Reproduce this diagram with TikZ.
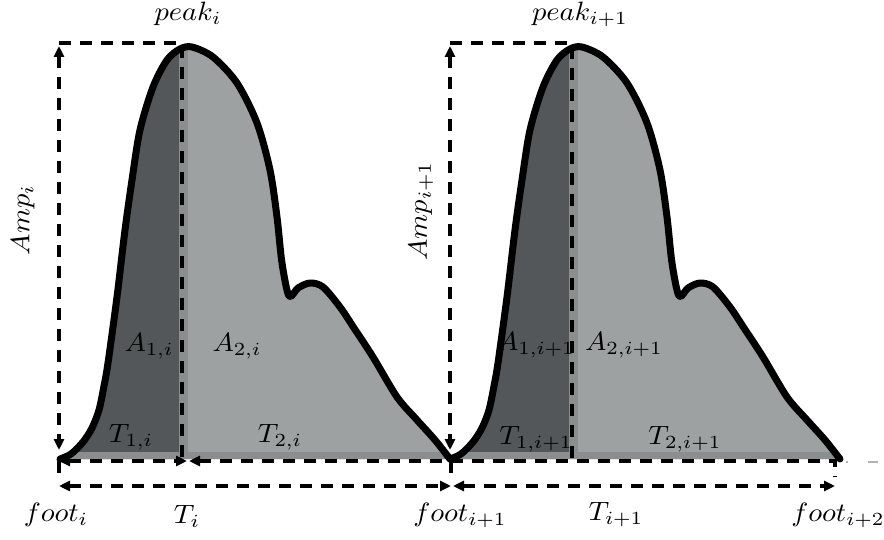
\documentclass[tikz,border=0pt]{standalone}
\usepackage{graphicx}
\usetikzlibrary{arrows.meta}
\definecolor{darkfill}{HTML}{53575A}
\definecolor{lightfill}{HTML}{9EA1A2}
\definecolor{midfill}{HTML}{8B8E8F}
\newcommand{\biglbl}[1]{\scalebox{2.85}[2.65]{$#1$}}
\tikzset{
  dl/.style={line width=3.4pt, dash pattern=on 12pt off 9pt},
  arw/.tip={Triangle[length=11pt,width=10pt]},
  outline/.style={line width=7pt, line cap=round, line join=round},
  lbl/.style={inner sep=0pt},
}
\begin{document}
\begin{tikzpicture}[x=1pt,y=-1pt]
\useasboundingbox[fill=white] (0,0) rectangle (884,540);

% ---- pulse shapes ----
\foreach \s in {0,390}{
\begin{scope}[xshift=\s pt]
  \begin{scope}
    \clip plot[smooth,tension=0.5] coordinates {(60,459) (71,454) (83,442) (92,428) (99,410) (104,386) (108,363) (117,297) (125,230) (132,180) (140,130) (153,87) (167,60) (180,49) (192,47) (213,57) (237,83) (257,123) (270,170) (277,217) (282,263) (289,296) (298,288) (310,283) (323,287) (340,307) (354,328) (373,357) (397,397) (417,420) (435,440) (450,459)} -- cycle;
    \fill[darkfill] (50,30) rectangle (179,470);
    \fill[midfill] (179,30) rectangle (188,470);
    \fill[lightfill] (188,30) rectangle (460,470);
    \fill[midfill] (50,452) rectangle (460,470);
  \end{scope}
  \draw[outline] plot[smooth,tension=0.5] coordinates {(60,459) (71,454) (83,442) (92,428) (99,410) (104,386) (108,363) (117,297) (125,230) (132,180) (140,130) (153,87) (167,60) (180,49) (192,47) (213,57) (237,83) (257,123) (270,170) (277,217) (282,263) (289,296) (298,288) (310,283) (323,287) (340,307) (354,328) (373,357) (397,397) (417,420) (435,440) (450,459)};
\end{scope}
}

% ---- coordinates ----
\coordinate (ampAtop) at (59,46);
\coordinate (ampAbot) at (59,450);
\coordinate (boxAtl) at (59,43);
\coordinate (peakA) at (182,43);
\coordinate (peakAbot) at (182,460);
\coordinate (footA) at (59,461);
\coordinate (footAtick) at (59,474);
\coordinate (t1Aend) at (187,461);
\coordinate (t2Astart) at (189,461);
\coordinate (footB) at (451,461);
\coordinate (footBtick) at (451,478);
\coordinate (ampBtop) at (450,46);
\coordinate (ampBbot) at (450,450);
\coordinate (boxBtl) at (450,43);
\coordinate (peakB) at (572,43);
\coordinate (peakBbot) at (572,461);
\coordinate (footC) at (835,461);
\coordinate (footCtick) at (835,477);
\coordinate (TAstart) at (59,486);
\coordinate (TAend) at (451,486);
\coordinate (TBstart) at (453,486);
\coordinate (TBend) at (835,486);
\coordinate (trailA) at (846,462);
\coordinate (trailB) at (882,462);

% ---- dashed guides ----
\draw[dl, arw-arw] (ampAtop) -- (ampAbot);
\draw[dl] (boxAtl) -- (peakA) -- (peakAbot);
\draw[dl] (footA) -- (footAtick);
\draw[dl, arw-arw] (footA) -- (t1Aend);
\draw[dl, arw-] (t2Astart) -- (footB);
\draw[dl] (footB) -- (footBtick);
\draw[dl, arw-arw] (ampBtop) -- (ampBbot);
\draw[dl] (boxBtl) -- (peakB) -- (peakBbot);
\draw[dl] (footB) -- (peakBbot) -- (footC) -- (footCtick);
\draw[dl, arw-arw] (TAstart) -- (TAend);
\draw[dl, arw-arw] (TBstart) -- (TBend);
\draw[gray!60, line width=1.6pt, dash pattern=on 2pt off 20pt on 10pt off 40pt] (trailA) -- (trailB);

% ---- labels ----
\node[lbl] (lpeakA) at (188,14) {\biglbl{peak_i}};
\node[lbl] (lpeakB) at (580,14) {\biglbl{peak_{i+1}}};
\node[lbl, rotate=90] (lampA) at (23,220) {\biglbl{Amp_i}};
\node[lbl, rotate=90] (lampB) at (421,211) {\biglbl{Amp_{i+1}}};
\node[lbl] (lA1A) at (149,346) {\biglbl{A_{1,i}}};
\node[lbl] (lA2A) at (237,346) {\biglbl{A_{2,i}}};
\node[lbl] (lA1B) at (536,345) {\biglbl{A_{1,i+1}}};
\node[lbl] (lA2B) at (624,345) {\biglbl{A_{2,i+1}}};
\node[lbl] (lT1A) at (131,437) {\biglbl{T_{1,i}}};
\node[lbl] (lT2A) at (280,437) {\biglbl{T_{2,i}}};
\node[lbl] (lT1B) at (536,439) {\biglbl{T_{1,i+1}}};
\node[lbl] (lT2B) at (685,439) {\biglbl{T_{2,i+1}}};
\node[lbl] (lfootA) at (56,515) {\biglbl{foot_i}};
\node[lbl] (lTA) at (187,516) {\biglbl{T_i}};
\node[lbl] (lfootB) at (460,515) {\biglbl{foot_{i+1}}};
\node[lbl] (lTB) at (616,515) {\biglbl{T_{i+1}}};
\node[lbl] (lfootC) at (838,515) {\biglbl{foot_{i+2}}};
\end{tikzpicture}
\end{document}
